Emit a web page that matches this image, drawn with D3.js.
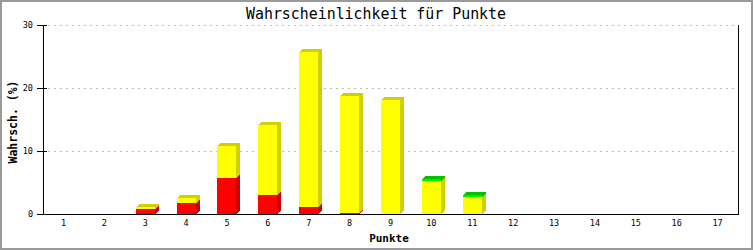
<!DOCTYPE html>
<html>
<head>
<meta charset="utf-8">
<script src="https://cdn.jsdelivr.net/npm/d3@7"></script>
<style>
html,body{margin:0;padding:0;background:#fff;}
svg{display:block;}
text{font-family:"DejaVu Sans Mono",monospace;}
</style>
</head>
<body>
<script>
const categories = ["1","2","3","4","5","6","7","8","9","10","11","12","13","14","15","16","17"];
const redValues    = [0,0,0.8,1.7,5.7,3.0,1.1,0.15,0,0,0,0,0,0,0,0,0];
const yellowValues = [0,0,0.3,0.8,5.1,11.1,24.6,18.55,18.1,5.3,2.7,0,0,0,0,0,0];
const greenValues  = [0,0,0,0,0,0,0,0,0,0.3,0.3,0,0,0,0,0,0];
const yTicks = [0,10,20,30];
const title = "Wahrscheinlichkeit für Punkte";
const xTitle = "Punkte";
const yTitle = "Wahrsch. (%)";

const W = 753, H = 250;
const pLeft = 43, pRight = 738, pTop = 25, pBottom = 214;
const svg = d3.select("body").append("svg").attr("width", W).attr("height", H);

svg.append("rect").attr("x",1).attr("y",1).attr("width",W-2).attr("height",H-2)
  .attr("fill","#fff").attr("stroke","#9a9a9a").attr("stroke-width",2);

const x = d3.scaleBand().domain(categories).range([pLeft, pRight]);
const y = d3.scaleLinear().domain([0,30]).range([pBottom, pTop]);

// grid
svg.append("g").selectAll("line").data(yTicks.filter(t=>t>0)).join("line")
  .attr("x1", pLeft+5).attr("x2", pRight-2)
  .attr("y1", d=>Math.round(y(d))+0.5).attr("y2", d=>Math.round(y(d))+0.5)
  .attr("stroke","#bdbdbd").attr("stroke-dasharray","2,4");

// bars
const series = [
  {vals: redValues, front:"#ff0000", dark:"#cc0000"},
  {vals: yellowValues, front:"#ffff00", dark:"#d0d000"},
  {vals: greenValues, front:"#00ee00", dark:"#00c000"}
];
const bw = Math.round(x.bandwidth()*0.47);
const dx = 4, dy = 3;
const bars = svg.append("g").attr("shape-rendering","crispEdges");
categories.forEach((c,i)=>{
  const x0 = Math.round(x(c) + (x.bandwidth()-bw)/2);
  const x1 = x0 + bw;
  let cum = 0;
  let lastTop = null, lastDark = null;
  series.forEach(s=>{
    const v = s.vals[i];
    if (v <= 0) return;
    const yb = Math.round(y(cum));
    cum += v;
    const yt = Math.round(y(cum));
    bars.append("path")
      .attr("d", `M${x1},${yb}L${x1+dx},${yb-dy}L${x1+dx},${yt-dy}L${x1},${yt}Z`)
      .attr("fill", s.dark);
    bars.append("rect").attr("x",x0).attr("y",yt).attr("width",bw).attr("height",Math.max(yb-yt,1))
      .attr("fill", s.front);
    lastTop = yt; lastDark = s.dark;
  });
  if (lastTop !== null) {
    bars.append("path")
      .attr("d", `M${x0},${lastTop}L${x0+dx},${lastTop-dy}L${x1+dx},${lastTop-dy}L${x1},${lastTop}Z`)
      .attr("fill", lastDark);
  }
});

// axes
const axes = svg.append("g").attr("stroke","#000").attr("shape-rendering","crispEdges");
axes.append("line").attr("x1",pLeft+0.5).attr("x2",pLeft+0.5).attr("y1",pTop).attr("y2",pBottom+0.5);
axes.append("line").attr("x1",pLeft-6).attr("x2",pRight+1).attr("y1",pBottom+0.5).attr("y2",pBottom+0.5);
axes.append("line").attr("x1",pRight+0.5).attr("x2",pRight+0.5).attr("y1",pTop).attr("y2",pBottom+0.5);
axes.selectAll(".yt").data(yTicks).join("line")
  .attr("x1",pLeft-6).attr("x2",pLeft+4)
  .attr("y1",d=>Math.round(y(d))+0.5).attr("y2",d=>Math.round(y(d))+0.5);

svg.append("g").selectAll("text").data(yTicks).join("text")
  .attr("x", 33).attr("y", d=>y(d)).attr("dy","0.35em")
  .attr("text-anchor","end").attr("font-size",8.5).text(d=>d);

svg.append("g").selectAll("text").data(categories).join("text")
  .attr("x", d=>x(d)+x.bandwidth()/2).attr("y", 223).attr("dy","0.35em")
  .attr("text-anchor","middle").attr("font-size",8.5).text(d=>d);

svg.append("text").attr("x",376).attr("y",13).attr("dy","0.35em")
  .attr("text-anchor","middle").attr("font-size",16).attr("font-weight","normal")
  .attr("textLength",260).attr("lengthAdjust","spacingAndGlyphs").text(title);

svg.append("text").attr("x",389).attr("y",238).attr("dy","0.35em")
  .attr("text-anchor","middle").attr("font-size",11).attr("font-weight","bold").text(xTitle);

svg.append("text").attr("transform","translate(13,122) rotate(-90)").attr("dy","0.35em")
  .attr("text-anchor","middle").attr("font-size",11.5).attr("font-weight","bold").text(yTitle);
</script>
</body>
</html>
